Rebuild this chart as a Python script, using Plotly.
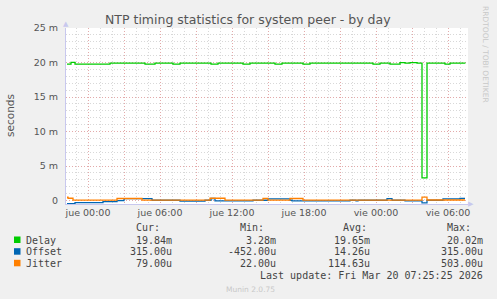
import plotly.graph_objects as go

# ---------------- data ----------------
delay_times = ["2026-03-18 22:15", "2026-03-18 22:35", "2026-03-18 22:55", "2026-03-19 01:50",
               "2026-03-19 04:45", "2026-03-19 05:35", "2026-03-19 07:05", "2026-03-19 07:40",
               "2026-03-19 10:15", "2026-03-19 10:50", "2026-03-19 12:55", "2026-03-19 13:30",
               "2026-03-19 15:35", "2026-03-19 16:10", "2026-03-19 17:55", "2026-03-19 18:30",
               "2026-03-19 23:45", "2026-03-20 00:20", "2026-03-20 01:10", "2026-03-20 02:00",
               "2026-03-20 02:25", "2026-03-20 02:50", "2026-03-20 03:25", "2026-03-20 03:50",
               "2026-03-20 04:15", "2026-03-20 05:45", "2026-03-20 06:10", "2026-03-20 07:25"]
delay_ms = [19.77, 20.02, 19.77, 19.91, 19.77, 19.91, 19.77, 19.91, 19.77, 19.91, 19.77, 19.91,
            19.77, 19.91, 19.77, 19.91, 19.77, 19.91, 19.77, 19.99, 19.91, 19.97, 19.91, 3.28,
            19.91, 19.77, 19.91, 19.84]

offset_times = ["2026-03-18 22:15", "2026-03-18 22:55", "2026-03-19 01:15", "2026-03-19 02:25",
                "2026-03-19 03:00", "2026-03-19 05:20", "2026-03-19 07:40", "2026-03-19 09:45",
                "2026-03-19 10:15", "2026-03-19 10:35", "2026-03-19 13:45", "2026-03-19 15:00",
                "2026-03-19 16:50", "2026-03-19 17:00", "2026-03-19 21:50", "2026-03-19 22:20",
                "2026-03-19 22:30", "2026-03-20 00:55", "2026-03-20 01:20", "2026-03-20 02:25",
                "2026-03-20 03:50", "2026-03-20 04:15", "2026-03-20 05:35", "2026-03-20 07:00",
                "2026-03-20 07:25"]
offset_us = [-452, -290, -150, 0, 290, 40, -80, 40, 300, -60, 40, 250, 40, -60, 40, -60,
             40, 290, 40, -60, -350, 40, 230, 315, 315]

jitter_times = ["2026-03-18 22:15", "2026-03-18 22:20", "2026-03-18 22:45", "2026-03-19 02:25",
                "2026-03-19 04:30", "2026-03-19 10:10", "2026-03-19 11:25", "2026-03-19 14:35",
                "2026-03-19 15:00", "2026-03-19 16:50", "2026-03-19 17:55", "2026-03-20 03:50",
                "2026-03-20 04:15", "2026-03-20 07:25"]
jitter_us = [480, 330, 60, 300, 60, 330, 60, 300, 60, 300, 60, 503, 79, 79]

x_tick_vals = ["2026-03-19 00:00", "2026-03-19 03:00", "2026-03-19 06:00", "2026-03-19 09:00",
               "2026-03-19 12:00", "2026-03-19 15:00", "2026-03-19 18:00", "2026-03-19 21:00",
               "2026-03-20 00:00", "2026-03-20 03:00", "2026-03-20 06:00"]
x_tick_text = ["jue 00:00", "", "jue 06:00", "", "jue 12:00", "", "jue 18:00", "",
               "vie 00:00", "", "vie 06:00"]
y_tick_vals = [0, 0.005, 0.010, 0.015, 0.020, 0.025]
y_tick_text = ["0", "5 m", "10 m", "15 m", "20 m", "25 m"]

series_names = ["Delay", "Offset", "Jitter"]
series_colors = ["#00CC00", "#0066B3", "#FF8000"]
stat_cur = ["19.84m", "315.00u", "79.00u"]
stat_min = ["3.28m", "-452.00u", "22.00u"]
stat_avg = ["19.65m", "14.26u", "114.63u"]
stat_max = ["20.02m", "315.00u", "503.00u"]

title_text = "NTP timing statistics for system peer - by day"
last_update = "Last update: Fri Mar 20 07:25:25 2026"

# ---------------- layout geometry ----------------
WIDTH, HEIGHT = 497, 299
L, R, T, B = 66, 29, 28, 95
PW = WIDTH - L - R
PH = HEIGHT - T - B


def px(x):
    return (x - L) / PW


def py(y):
    return (HEIGHT - B - y) / PH


fig = go.Figure()
series_x = [delay_times, offset_times, jitter_times]
series_y = [[v * 1e-3 for v in delay_ms], [v * 1e-6 for v in offset_us], [v * 1e-6 for v in jitter_us]]
for name, xs, ys, col in zip(series_names, series_x, series_y, series_colors):
    fig.add_trace(go.Scatter(x=xs, y=ys, mode="lines", name=name, line_shape="hv",
                             line=dict(color=col, width=1.3), showlegend=False))

grid_major = "rgba(235,140,140,0.6)"
grid_minor = "rgba(200,200,200,0.7)"
axis_col = "#C8C8EE"

fig.update_layout(
    width=WIDTH, height=HEIGHT,
    margin=dict(l=L, r=R, t=T, b=B, pad=0),
    paper_bgcolor="#F0F0F0", plot_bgcolor="#FFFFFF",
    font=dict(family="DejaVu Sans", color="#555555", size=10),
    showlegend=False,
)
fig.update_xaxes(
    range=["2026-03-18 22:10", "2026-03-20 07:40"],
    tickmode="array", tickvals=x_tick_vals, ticktext=x_tick_text,
    tickfont=dict(size=9.5, color="#555555"),
    showgrid=True, gridcolor=grid_major, griddash="1px,2px", gridwidth=1,
    minor=dict(tickmode="linear", tick0="2026-03-19 00:00", dtick=3600000,
               showgrid=True, gridcolor=grid_minor, griddash="1px,2px", gridwidth=1),
    showline=True, linecolor=axis_col, linewidth=1, zeroline=False, ticks="",
)
fig.update_yaxes(
    range=[-0.0005, 0.025],
    tickmode="array", tickvals=y_tick_vals, ticktext=y_tick_text,
    tickfont=dict(size=9.5, color="#555555"),
    showgrid=True, gridcolor=grid_major, griddash="1px,2px", gridwidth=1,
    minor=dict(tickmode="linear", tick0=0, dtick=0.001,
               showgrid=True, gridcolor=grid_minor, griddash="1px,2px", gridwidth=1),
    showline=True, linecolor=axis_col, linewidth=1, zeroline=False, ticks="",
    ticklabelstandoff=5,
)

ann = []
ann.append(dict(text=title_text, x=px(248), y=py(19), xref="paper", yref="paper",
                showarrow=False, xanchor="center", yanchor="middle",
                font=dict(family="DejaVu Sans", size=12.5, color="#555555")))
ann.append(dict(text="seconds", x=px(10), y=py(116), xref="paper", yref="paper",
                showarrow=False, xanchor="center", yanchor="middle", textangle=-90,
                font=dict(family="DejaVu Sans", size=10.5, color="#555555")))
ann.append(dict(text="RRDTOOL / TOBI OETIKER", x=px(486), y=py(55), xref="paper", yref="paper",
                showarrow=False, xanchor="center", yanchor="middle", textangle=90,
                font=dict(family="DejaVu Sans", size=7.5, color="#C8C8C8")))
# axis arrows
ann.append(dict(text="▲", x=px(66), y=py(24), xref="paper", yref="paper", showarrow=False,
                xanchor="center", yanchor="middle", font=dict(size=7, color=axis_col)))
ann.append(dict(text="▶", x=px(471), y=py(204), xref="paper", yref="paper", showarrow=False,
                xanchor="center", yanchor="middle", font=dict(size=7, color=axis_col)))

mono = dict(family="DejaVu Sans Mono", size=10, color="#444444")
header_y = 227
ann.append(dict(text="Cur:", x=px(136), y=py(header_y), xref="paper", yref="paper", showarrow=False,
                xanchor="left", yanchor="middle", font=mono))
ann.append(dict(text="Min:", x=px(240), y=py(header_y), xref="paper", yref="paper", showarrow=False,
                xanchor="left", yanchor="middle", font=mono))
ann.append(dict(text="Avg:", x=px(343), y=py(header_y), xref="paper", yref="paper", showarrow=False,
                xanchor="left", yanchor="middle", font=mono))
ann.append(dict(text="Max:", x=px(447), y=py(header_y), xref="paper", yref="paper", showarrow=False,
                xanchor="left", yanchor="middle", font=mono))

shapes = []
row_y = [240, 251.7, 263.3]
for i, name in enumerate(series_names):
    yy = row_y[i]
    shapes.append(dict(type="rect", xref="paper", yref="paper", x0=px(14), x1=px(20.5),
                       y0=py(yy + 3), y1=py(yy - 3.5), fillcolor=series_colors[i], line=dict(width=0)))
    ann.append(dict(text=name, x=px(26), y=py(yy), xref="paper", yref="paper", showarrow=False,
                    xanchor="left", yanchor="middle", font=mono))
    for col_vals, right in [(stat_cur, 172), (stat_min, 276), (stat_avg, 369.5), (stat_max, 482.5)]:
        ann.append(dict(text=col_vals[i], x=px(right), y=py(yy), xref="paper", yref="paper",
                        showarrow=False, xanchor="right", yanchor="middle", font=mono))

ann.append(dict(text=last_update, x=px(482.5), y=py(275), xref="paper", yref="paper", showarrow=False,
                xanchor="right", yanchor="middle", font=mono))
ann.append(dict(text="Munin 2.0.75", x=px(250), y=py(289), xref="paper", yref="paper", showarrow=False,
                xanchor="center", yanchor="middle",
                font=dict(family="DejaVu Sans", size=7.5, color="#C8C8C8")))

for a in ann:
    a.setdefault("borderpad", 0)
    a.setdefault("borderwidth", 0)
fig.update_layout(annotations=ann, shapes=shapes)

fig.write_html("out.html")
